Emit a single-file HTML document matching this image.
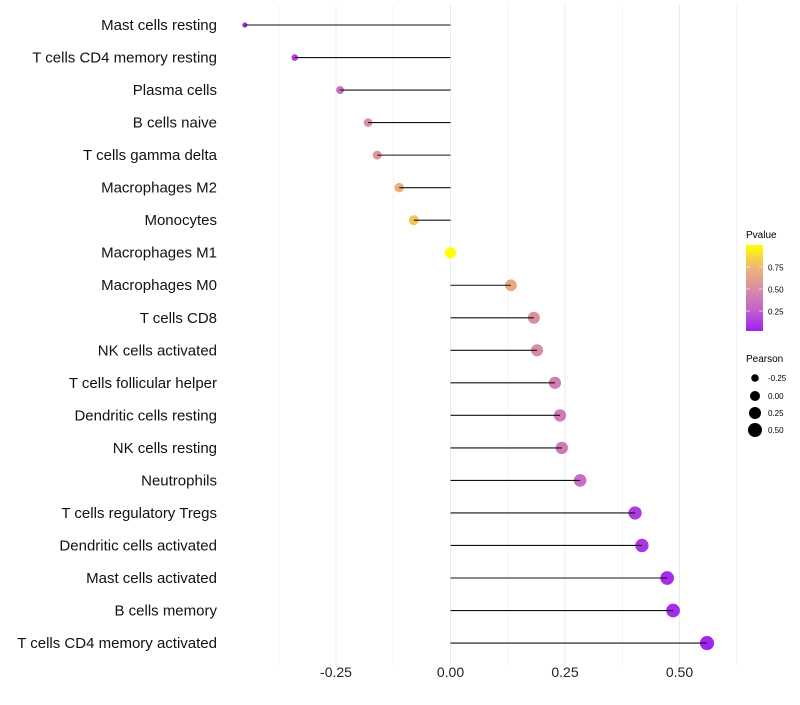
<!DOCTYPE html>
<html><head><meta charset="utf-8"><style>
body{margin:0;background:#fff}
svg text{font-family:"Liberation Sans",sans-serif}
</style></head><body>
<svg id="chart" width="800" height="700" viewBox="0 0 800 700" xmlns="http://www.w3.org/2000/svg">
<defs><linearGradient id="pgrad" x1="0" y1="1" x2="0" y2="0">
<stop offset="0" stop-color="#A020F0"/><stop offset="0.25" stop-color="#C364CC"/><stop offset="0.5" stop-color="#DA8FA0"/><stop offset="0.75" stop-color="#F0B870"/><stop offset="1" stop-color="#FFFF00"/></linearGradient></defs>
<g id="grid"></g><g id="marks"></g><g id="labels"></g>
<g>
<text x="746" y="238" font-size="10">Pvalue</text>
<rect x="746" y="245" width="17" height="86" fill="url(#pgrad)"/>
<g stroke="#fff" stroke-opacity="0.6"><line x1="746" x2="750" y1="267" y2="267"/><line x1="759" x2="763" y1="267" y2="267"/><line x1="746" x2="750" y1="289" y2="289"/><line x1="759" x2="763" y1="289" y2="289"/><line x1="746" x2="750" y1="311" y2="311"/><line x1="759" x2="763" y1="311" y2="311"/></g>
<text x="768" y="270.5" font-size="8">0.75</text><text x="768" y="292.5" font-size="8">0.50</text><text x="768" y="314.5" font-size="8">0.25</text>
</g>
<g>
<text x="746" y="362" font-size="10">Pearson</text>
<circle cx="755" cy="378" r="3.8"/><circle cx="755" cy="396" r="5"/><circle cx="755" cy="413" r="6"/><circle cx="755" cy="430" r="7"/>
<text x="768" y="381" font-size="8">-0.25</text><text x="768" y="399" font-size="8">0.00</text><text x="768" y="416" font-size="8">0.25</text><text x="768" y="433" font-size="8">0.50</text>
</g>
</svg>
<script>
const cells=["Mast cells resting","T cells CD4 memory resting","Plasma cells","B cells naive","T cells gamma delta","Macrophages M2","Monocytes","Macrophages M1","Macrophages M0","T cells CD8","NK cells activated","T cells follicular helper","Dendritic cells resting","NK cells resting","Neutrophils","T cells regulatory  Tregs","Dendritic cells activated","Mast cells activated","B cells memory","T cells CD4 memory activated"];
const pearson=[-0.449,-0.34,-0.241,-0.18,-0.16,-0.112,-0.08,0.0,0.132,0.182,0.189,0.228,0.239,0.243,0.283,0.403,0.418,0.473,0.486,0.56];
const pvalue=[0.05,0.1,0.3,0.5,0.55,0.7,0.8,1.0,0.65,0.5,0.48,0.4,0.38,0.37,0.3,0.1,0.08,0.04,0.04,0.02];
const xTicks=[-0.25,0,0.25,0.5];
const xTickLabels=["-0.25","0.00","0.25","0.50"];
const NS="http://www.w3.org/2000/svg";
const x=v=>450.5+v*458;
const y=i=>25+i*32.53;
const rad=v=>Math.max(1.3, v<0 ? 5.5+6.5*v : 5.5+2.8*v);
const stops=[[0,[160,32,240]],[0.25,[195,100,204]],[0.5,[218,143,160]],[0.75,[240,184,112]],[1,[255,255,0]]];
function col(p){for(let k=1;k<stops.length;k++){if(p<=stops[k][0]){const a=stops[k-1],b=stops[k],t=(p-a[0])/(b[0]-a[0]);return "rgb("+a[1].map((c,j)=>Math.round(c+(b[1][j]-c)*t)).join(",")+")";}}return "rgb(255,255,0)";}
function mk(t,at,parent){const e=document.createElementNS(NS,t);for(const k in at)e.setAttribute(k,at[k]);parent.appendChild(e);return e;}
const grid=document.getElementById('grid'),marks=document.getElementById('marks'),labels=document.getElementById('labels');
for(let v=-0.375;v<=0.626;v+=0.125){const g=mk('line',{x1:x(v),x2:x(v),y1:5,y2:665,stroke:'#ebebeb','stroke-width':Math.abs((v*8)%2)<0.01?1:0.6},grid);

}
xTicks.forEach((v,i)=>{const t=mk('text',{x:x(v),y:677,'text-anchor':'middle','font-size':'14',fill:'#222'},labels);t.textContent=xTickLabels[i];

});
cells.forEach((c,i)=>{
const t=mk('text',{x:217,y:y(i)+5,'text-anchor':'end','font-size':'15',fill:'#111'},labels);t.textContent=c;


const pt=mk('circle',{cx:x(pearson[i]),cy:y(i),r:rad(pearson[i]),fill:col(pvalue[i])},marks);


const ln=mk('line',{x1:x(0),x2:x(pearson[i]),y1:y(i),y2:y(i),stroke:'#111','stroke-width':1.1},marks);


});
</script>
</body></html>
